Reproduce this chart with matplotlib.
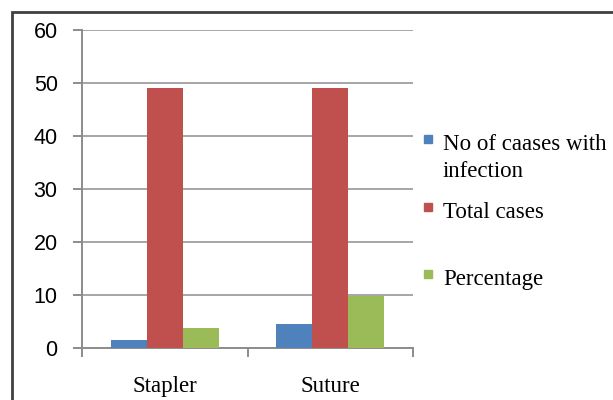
import matplotlib.pyplot as plt
import numpy as np
from matplotlib.patches import Rectangle

# Wound infection: stapler vs suture closure
groups = ["Stapler", "Suture"]
series_names = ["No of caases with\ninfection", "Total cases", "Percentage"]
infected = [1.6, 4.5]
total_cases = [49, 49]
percentage = [3.8, 9.8]
y_ticks = [0, 10, 20, 30, 40, 50, 60]

colors = ["#4F81BD", "#C0504D", "#9BBB59"]
serif = ["Liberation Serif", "DejaVu Serif"]
narrow = ["Liberation Sans Narrow", "Liberation Sans", "DejaVu Sans"]

W, H = 613, 400
fig = plt.figure(figsize=(W / 100, H / 100), dpi=100)
ax = fig.add_axes([82 / W, 1 - 348 / H, 331 / W, 318 / H])

x = np.arange(len(groups))
bw = 0.218
for i, (vals, c) in enumerate(zip([infected, total_cases, percentage], colors)):
    ax.bar(x + (i - 1) * bw, vals, width=bw, color=c, zorder=3)

ax.set_xlim(-0.5, 1.5)
ax.set_ylim(0, 60)
ax.set_yticks(y_ticks)
ax.set_yticklabels([str(v) for v in y_ticks], family=narrow, fontsize=15.5)
ax.grid(axis="y", color="#a6a6a6", linewidth=1.4, zorder=0)
ax.set_axisbelow(True)

ax.set_xticks(x)
ax.set_xticklabels(groups, family=serif, fontsize=16.5)
ax.set_xticks([-0.5, 0.5, 1.5], minor=True)
ax.tick_params(axis="x", which="major", length=0, pad=20)
ax.tick_params(axis="x", which="minor", length=6.5, width=1.4, color="#8c8c8c")
ax.tick_params(axis="y", length=6.5, width=1.4, color="#8c8c8c", pad=11)

for s in ["top", "right"]:
    ax.spines[s].set_visible(False)
for s in ["left", "bottom"]:
    ax.spines[s].set_color("#8c8c8c")
    ax.spines[s].set_linewidth(1.4)

# outer chart frame, running off the right and bottom edges
fig.patches.append(Rectangle((12 / W, -0.2), 1.2, 1.2 - 12 / H,
                             transform=fig.transFigure, fill=False,
                             edgecolor="#404040", linewidth=2))

# legend on the right; marker sits beside the first line of each label
legend_baselines = [150, 218, 285]
line_step = 27
for name, c, yb in zip(series_names, colors, legend_baselines):
    fig.patches.append(Rectangle((424 / W, 1 - (yb - 7) / H), 8 / W, 8 / H,
                                 transform=fig.transFigure, color=c))
    for k, line in enumerate(name.split("\n")):
        fig.text(443 / W, 1 - (yb + k * line_step) / H, line, family=serif,
                 fontsize=16.5, va="baseline", ha="left")

fig.savefig("out.png", dpi=100)
